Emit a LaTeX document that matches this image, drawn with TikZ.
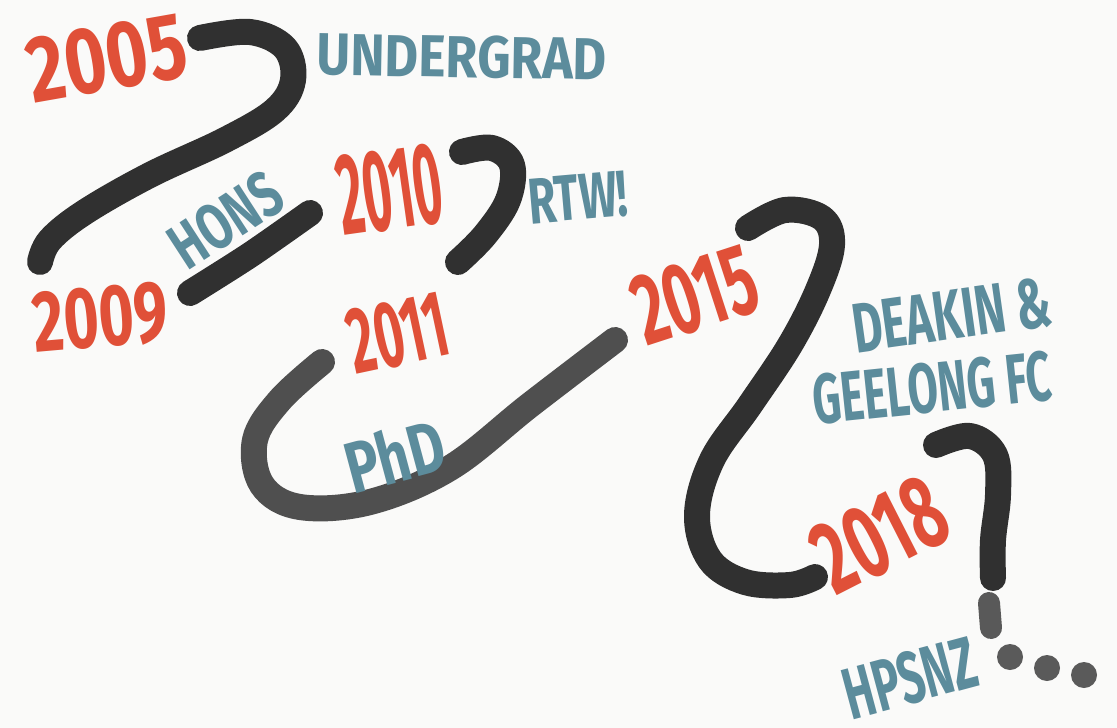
\documentclass[tikz,border=0pt]{standalone}
\usepackage{fontspec}
\newfontfamily\handfont{Fira Sans}
\newcommand\handtext[3]{\resizebox{#1pt}{#2pt}{\handfont\bfseries #3}}
\definecolor{yearred}{HTML}{E05038}
\definecolor{noteteal}{HTML}{5C8C9C}
\definecolor{paper}{HTML}{FAFAF9}
\definecolor{ink}{HTML}{303030}
\tikzset{
  brush/.style={draw=ink, line width=26pt, line cap=round, line join=round},
  year/.style={text=yearred, inner sep=0pt},
  note/.style={text=noteteal, inner sep=0pt},
}
\begin{document}
\begin{tikzpicture}[x=1pt,y=-1pt]
\fill[paper] (0,0) rectangle (1117,728);
\useasboundingbox (0,0) rectangle (1117,728);
% brush strokes
\draw[brush] plot[smooth, tension=0.6] coordinates {(200,38) (250,32) (285,48) (293,80) (275,110) (225,140) (150,175) (85,212) (50,240) (40,262)};
\draw[brush] plot[smooth] coordinates {(190,293) (250,255) (310,213)};
\draw[brush] plot[smooth, tension=0.6] coordinates {(462,152) (492,148) (512,165) (508,200) (485,235) (458,262)};
\draw[brush, draw=ink!85] plot[smooth, tension=0.6] coordinates {(322,362) (280,400) (255,440) (262,485) (300,507) (370,502) (450,468) (530,405) (615,340)};
\draw[brush] plot[smooth, tension=0.6] coordinates {(748,228) (785,210) (822,218) (832,245) (818,290) (790,345) (750,405) (712,460) (697,515) (710,560) (745,582) (790,585) (815,577)};
\draw[brush] plot[smooth, tension=0.6] coordinates {(936,445) (970,436) (995,455) (998,495) (993,540) (993,578)};
\draw[brush, draw=ink!80, line width=22pt] (989,603) -- (991,628);
\fill[ink!80] (1010,657) circle (13);
\fill[ink!80] (1047,668) circle (13);
\fill[ink!80] (1084,675) circle (13);
% texts
\node[year, rotate=10] (y2005) at (107,58) {\handtext{160}{65}{2005}};
\node[note, rotate=-1] (undergrad) at (462,57) {\handtext{290}{42}{UNDERGRAD}};
\node[note, rotate=33] (hons) at (226,220) {\handtext{120}{46}{HONS}};
\node[year, rotate=8] (y2010) at (390,190) {\handtext{105}{80}{2010}};
\node[note, rotate=5] (rtw) at (578,198) {\handtext{100}{45}{RTW!}};
\node[year, rotate=5] (y2009) at (100,318) {\handtext{135}{60}{2009}};
\node[year, rotate=12] (y2011) at (398,333) {\handtext{100}{65}{2011}};
\node[year, rotate=18] (y2015) at (695,295) {\handtext{125}{70}{2015}};
\node[note, rotate=8] (deakin) at (952,315) {\handtext{200}{50}{DEAKIN \&}};
\node[note, rotate=6] (geelong) at (932,388) {\handtext{240}{50}{GEELONG FC}};
\node[note, rotate=15] (phd) at (395,455) {\handtext{100}{55}{PhD}};
\node[year, rotate=27] (y2018) at (880,535) {\handtext{135}{72}{2018}};
\node[note, rotate=15] (hpsnz) at (910,678) {\handtext{135}{52}{HPSNZ}};
\end{tikzpicture}
\end{document}
